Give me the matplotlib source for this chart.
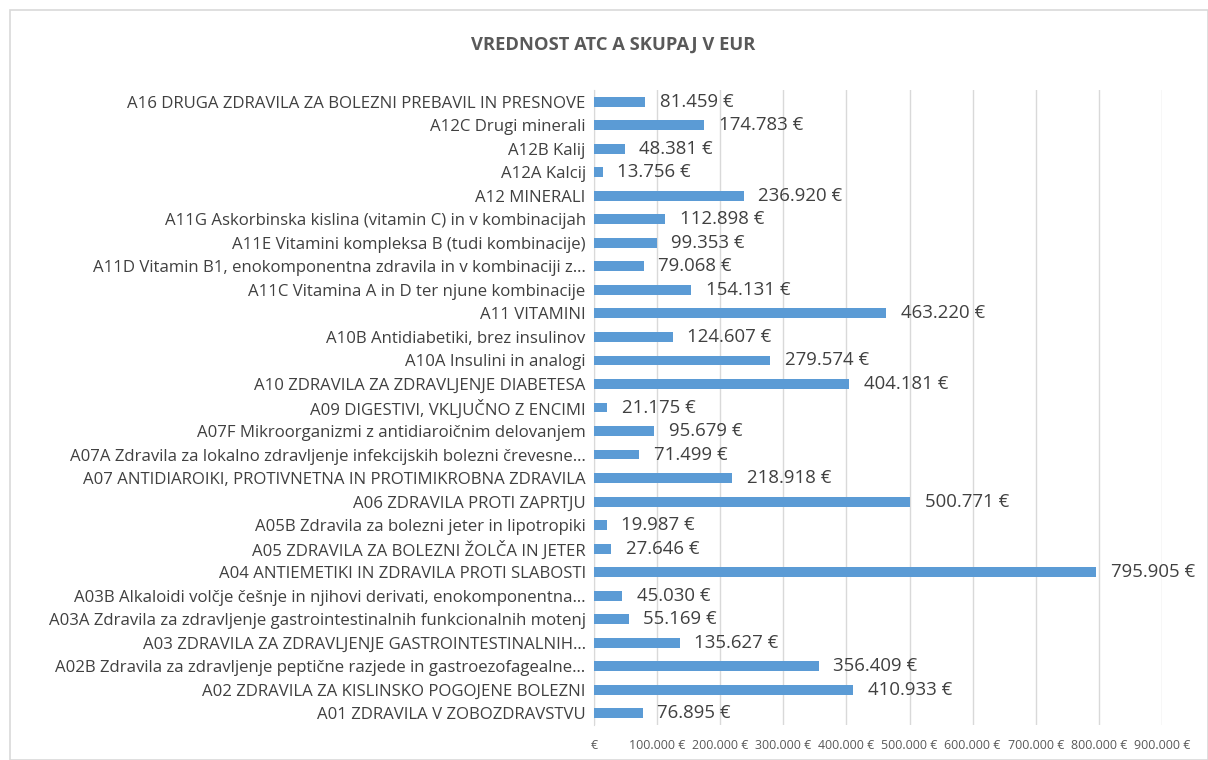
import matplotlib.pyplot as plt
from matplotlib.patches import Rectangle
from matplotlib.ticker import FuncFormatter

plt.rcParams['font.family'] = ['Open Sans', 'DejaVu Sans']

# --- data, bottom (A01) to top (A16) ---
labels = [
    "A01 ZDRAVILA V ZOBOZDRAVSTVU",
    "A02 ZDRAVILA ZA KISLINSKO POGOJENE BOLEZNI",
    "A02B Zdravila za zdravljenje peptične razjede in gastroezofagealne…",
    "A03 ZDRAVILA ZA ZDRAVLJENJE GASTROINTESTINALNIH…",
    "A03A Zdravila za zdravljenje gastrointestinalnih funkcionalnih motenj",
    "A03B Alkaloidi volčje češnje in njihovi derivati, enokomponentna…",
    "A04 ANTIEMETIKI IN ZDRAVILA PROTI SLABOSTI",
    "A05 ZDRAVILA ZA BOLEZNI ŽOLČA IN JETER",
    "A05B Zdravila za bolezni jeter in lipotropiki",
    "A06 ZDRAVILA PROTI ZAPRTJU",
    "A07 ANTIDIAROIKI, PROTIVNETNA IN PROTIMIKROBNA ZDRAVILA",
    "A07A Zdravila za lokalno zdravljenje infekcijskih bolezni črevesne…",
    "A07F Mikroorganizmi z antidiaroičnim delovanjem",
    "A09 DIGESTIVI, VKLJUČNO Z ENCIMI",
    "A10 ZDRAVILA ZA ZDRAVLJENJE DIABETESA",
    "A10A Insulini in analogi",
    "A10B Antidiabetiki, brez insulinov",
    "A11 VITAMINI",
    "A11C Vitamina A in D ter njune kombinacije",
    "A11D Vitamin B1, enokomponentna zdravila in v kombinaciji z…",
    "A11E Vitamini kompleksa B (tudi kombinacije)",
    "A11G Askorbinska kislina (vitamin C) in v kombinacijah",
    "A12 MINERALI",
    "A12A Kalcij",
    "A12B Kalij",
    "A12C Drugi minerali",
    "A16 DRUGA ZDRAVILA ZA BOLEZNI PREBAVIL IN PRESNOVE",
]
values = [76895, 410933, 356409, 135627, 55169, 45030, 795905, 27646, 19987,
          500771, 218918, 71499, 95679, 21175, 404181, 279574, 124607, 463220,
          154131, 79068, 99353, 112898, 236920, 13756, 48381, 174783, 81459]
x_ticks = [0, 100000, 200000, 300000, 400000, 500000, 600000, 700000, 800000, 900000]


def eur(v):
    if v == 0:
        return "€"
    return f"{int(v):,}".replace(",", ".") + " €"


fig = plt.figure(figsize=(12.08, 7.6), dpi=100)
fig.patches.append(Rectangle((10 / 1208, 0), 1 - 10 / 1208, 1 - 10 / 760,
                             transform=fig.transFigure, fill=False,
                             edgecolor='#d9d9d9', linewidth=1.2))

ax = fig.add_axes([594 / 1208, 1 - 725 / 760, (1162 - 594) / 1208, (725 - 90) / 760])
y = list(range(len(labels)))
ax.barh(y, values, height=0.42, color='#5b9bd5', zorder=3)

for yi, v in zip(y, values):
    ax.text(v + 23000, yi, eur(v), va='center', ha='left', fontsize=13.4, color='#404040')

ax.set_xlim(0, 900000)
ax.set_ylim(-0.5, len(labels) - 0.5)
ax.set_xticks(x_ticks)
ax.xaxis.set_major_formatter(FuncFormatter(lambda v, p: eur(v)))
ax.set_yticks(y)
ax.set_yticklabels(labels)
ax.tick_params(axis='y', length=0, pad=6, labelsize=12.1, labelcolor='#404040')
ax.tick_params(axis='x', length=0, pad=10, labelsize=8.9, labelcolor='#595959')
ax.grid(axis='x', color='#d9d9d9', linewidth=1, zorder=0)
for s in ['top', 'right', 'bottom']:
    ax.spines[s].set_visible(False)
ax.spines['left'].set_color('#d9d9d9')

fig.text(613 / 1208, 1 - 45 / 760, "VREDNOST ATC A SKUPAJ V EUR", ha='center', va='center',
         fontsize=13.2, fontweight='bold', color='#595959')

fig.savefig('out.png', dpi=100)
